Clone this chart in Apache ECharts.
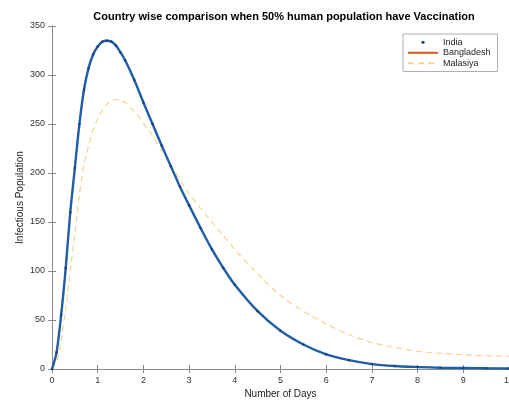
<!DOCTYPE html>
<html>
<head>
<meta charset="utf-8">
<script src="https://cdn.jsdelivr.net/npm/echarts@6/dist/echarts.min.js"></script>
<style>html,body{margin:0;padding:0;background:#fff;}#c{width:509px;height:405px;}</style>
</head>
<body>
<div id="c"></div>
<script>
var titleText = 'Country wise comparison when 50% human population have Vaccination';
var xName = 'Number of Days';
var yName = 'Infectious Population';
var seriesNames = ['India', 'Bangladesh', 'Malasiya'];
var days = [0,0.1,0.2,0.3,0.4,0.5,0.6,0.7,0.8,0.9,1.0,1.1,1.2,1.3,1.4,1.5,1.6,1.8,2.0,2.2,2.4,2.6,2.8,3.0,3.25,3.5,3.75,4.0,4.5,5.0,5.5,6.0,6.5,7.0,7.5,8.0,8.5,9.0,9.5,10];
var india = [0,17,55,103,160,205,250,285,307,321,329,334,335,334,330,323,315,295,272,250,228,207,186,167,144,122,103,86,59,39,25,15,9,5,3,2,1.3,1,0.7,0.5];
var bangladesh = [0,17,56,104,161,206,251,286,308,322,330,334,335,334,330,323,315,295,272,250,228,207,186,167,144,122,103,86,59,39,25,15,9,5,3,2,1.3,1,0.7,0.5];
var malasiya = [0,8,30,62,100,138,178,208,228,244,255,264,270,274,275,274,272,263,251,238,223,208,193,179,164,150,136,122,97,75,59,46,35,27,22,18,16,14.5,13.5,13];

function pairs(ys){ return days.map(function(d,i){ return [d, ys[i]]; }); }

var font = 'Liberation Sans, Arial, Helvetica, sans-serif';
var axisGray = '#8a8a8a';
var chart = echarts.init(document.getElementById('c'), null, {renderer:'canvas'});
chart.setOption({
  animation: false,
  backgroundColor: '#fff',
  textStyle: {fontFamily: font},
  title: {
    text: titleText, left: 279, top: 6, textAlign: 'center',
    textStyle: {fontSize: 11, fontWeight: 'bold', color: '#000', fontFamily: font}
  },
  legend: {
    orient: 'vertical', left: 403, top: 34,
    itemWidth: 30, itemHeight: 4, itemGap: 0,
    padding: [3, 7, 3, 4],
    borderColor: '#b0b0b0', borderWidth: 1, backgroundColor: '#fff',
    textStyle: {fontSize: 9, color: '#222', lineHeight: 10.5, fontFamily: font},
    data: [
      {name: seriesNames[0], lineStyle: {opacity: 0}, itemStyle: {opacity: 1}},
      {name: seriesNames[1], itemStyle: {opacity: 0}},
      {name: seriesNames[2], itemStyle: {opacity: 0}}
    ]
  },
  grid: {left: 52, right: 0, top: 26, bottom: 36, containLabel: false, outerBoundsMode: 'none'},
  xAxis: [{
    type: 'value', min: 0, max: 10, interval: 1,
    name: xName, nameLocation: 'middle', nameGap: 20, nameMoveOverlap: false,
    nameTextStyle: {fontSize: 10, color: '#222', fontFamily: font},
    axisLine: {lineStyle: {color: axisGray}},
    axisTick: {inside: true, length: 4, lineStyle: {color: axisGray}},
    axisLabel: {fontSize: 9, color: '#333', margin: 7, fontFamily: font, hideOverlap: false},
    splitLine: {show: false}
  }, {
    type: 'value', min: 0, max: 10, interval: 1, position: 'top',
    axisLine: {show: true, lineStyle: {color: axisGray}},
    axisTick: {inside: true, length: 4, lineStyle: {color: axisGray}},
    axisLabel: {show: false}, splitLine: {show: false}
  }],
  yAxis: [{
    type: 'value', min: 0, max: 350, interval: 50,
    name: yName, nameLocation: 'middle', nameGap: 27, nameMoveOverlap: false,
    nameTextStyle: {fontSize: 10, color: '#222', fontFamily: font},
    axisLine: {show: true, lineStyle: {color: axisGray}},
    axisTick: {show: true, inside: true, length: 4, lineStyle: {color: axisGray}},
    axisLabel: {fontSize: 9, color: '#333', margin: 7, fontFamily: font},
    splitLine: {show: false}
  }, {
    type: 'value', min: 0, max: 350, interval: 50, position: 'right',
    axisLine: {show: true, lineStyle: {color: axisGray}},
    axisTick: {show: true, inside: true, length: 4, lineStyle: {color: axisGray}},
    axisLabel: {show: false}, splitLine: {show: false}
  }],
  series: [{
    name: seriesNames[1], type: 'line', data: pairs(bangladesh),
    smooth: 0.3, symbol: 'none', z: 2,
    lineStyle: {color: '#D95319', width: 1.2}, itemStyle: {color: '#E8A070'}
  }, {
    name: seriesNames[2], type: 'line', data: pairs(malasiya),
    smooth: 0.3, symbol: 'none', z: 2,
    lineStyle: {color: '#F0D58E', width: 1.2, type: [6, 4]}, itemStyle: {color: '#F0D58E'}
  }, {
    name: seriesNames[0], type: 'line', data: pairs(india),
    smooth: 0.3, symbol: 'circle', symbolSize: 2.5, showAllSymbol: true, z: 3,
    lineStyle: {color: '#1f5fa8', width: 2.4}, itemStyle: {color: '#1c3f78'}
  }]
});
</script>
</body>
</html>
